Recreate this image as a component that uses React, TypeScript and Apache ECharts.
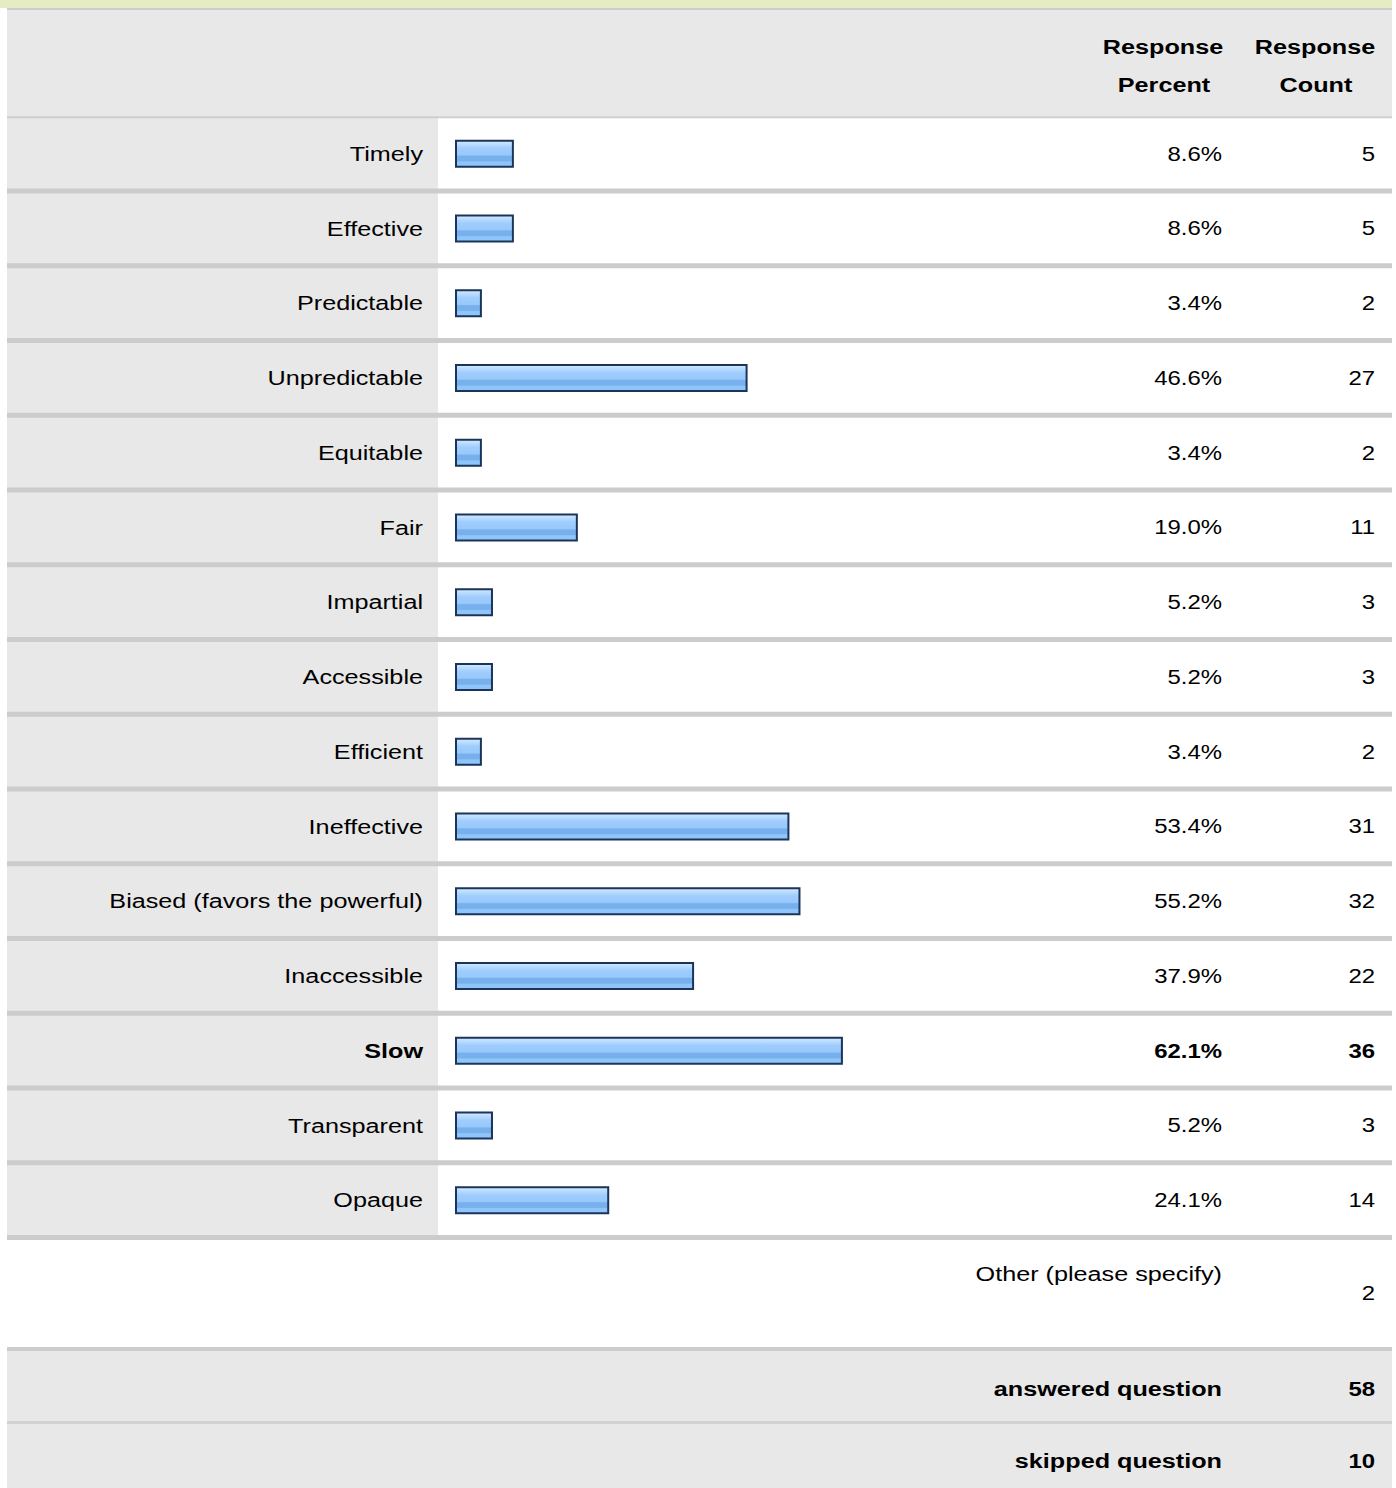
import React, { useEffect, useRef } from "react";
import * as echarts from "echarts";

const categories = [
  "Timely",
  "Effective",
  "Predictable",
  "Unpredictable",
  "Equitable",
  "Fair",
  "Impartial",
  "Accessible",
  "Efficient",
  "Ineffective",
  "Biased (favors the powerful)",
  "Inaccessible",
  "Slow",
  "Transparent",
  "Opaque",
];
const percents = [8.6, 8.6, 3.4, 46.6, 3.4, 19.0, 5.2, 5.2, 3.4, 53.4, 55.2, 37.9, 62.1, 5.2, 24.1];
const counts = [5, 5, 2, 27, 2, 11, 3, 3, 2, 31, 32, 22, 36, 3, 14];
const headerPercent = ["Response", "Percent"];
const headerCount = ["Response", "Count"];
const otherLabel = "Other (please specify)";
const otherCount = 2;
const answeredLabel = "answered question";
const answeredCount = 58;
const skippedLabel = "skipped question";
const skippedCount = 10;

const FONT = "'Liberation Sans', Arial, Helvetica, sans-serif";
const FS = 21;
const SX_NUM = 1.14;
const SX_WORD = 1.2;
const TXT = "#000000";
const GREY = "#e8e8e8";
const LINE = "#cccccc";
const TABLE_L = 7;
const TABLE_R = 1392;
const LABEL_COL_R = 438;
const LABEL_X = 423;
const PCT_X = 1222;
const CNT_X = 1375;

const maxPct = Math.max(...percents);

function txt(text: string, x: number, y: number, align: string, bold = false, sx = SX_NUM, z2 = 10) {
  return {
    type: "text",
    x,
    y,
    scaleX: sx,
    z2,
    style: {
      text,
      fill: TXT,
      fontFamily: FONT,
      fontSize: FS,
      fontWeight: bold ? "bold" : "normal",
      align,
      verticalAlign: "middle",
    },
  };
}

export default function App() {
  const ref = useRef<HTMLDivElement>(null);
  useEffect(() => {
    if (!ref.current) return;
    const chart = echarts.init(ref.current, undefined, { renderer: "svg" });
    const barFill = new echarts.graphic.LinearGradient(0, 0, 0, 1, [
      { offset: 0, color: "#d6ebff" },
      { offset: 0.14, color: "#bcdcff" },
      { offset: 0.3, color: "#9fcdfd" },
      { offset: 0.55, color: "#97c9fc" },
      { offset: 0.6, color: "#78b0ec" },
      { offset: 0.78, color: "#78b0ec" },
      { offset: 0.82, color: "#8fc5fb" },
      { offset: 1, color: "#8fc5fb" },
    ]);
    const n = categories.length;

    const graphic: any[] = [
      { type: "rect", shape: { x: 0, y: 0, width: TABLE_R, height: 8 }, style: { fill: "#e6ecc1" } },
      { type: "rect", shape: { x: TABLE_L, y: 8, width: TABLE_R - TABLE_L, height: 2 }, style: { fill: LINE } },
      { type: "rect", shape: { x: TABLE_L, y: 10, width: TABLE_R - TABLE_L, height: 106 }, style: { fill: GREY } },
      txt(headerPercent[0], 1163, 47, "center", true, SX_WORD),
      txt(headerPercent[1], 1164, 85, "center", true, SX_WORD),
      txt(headerCount[0], 1315, 47, "center", true, SX_WORD),
      txt(headerCount[1], 1316, 85, "center", true, SX_WORD),
      txt(otherLabel, PCT_X, 1274, "right", false, SX_WORD),
      txt(String(otherCount), CNT_X, 1293, "right"),
      { type: "rect", shape: { x: TABLE_L, y: 1347, width: TABLE_R - TABLE_L, height: 4 }, style: { fill: LINE } },
      { type: "rect", shape: { x: TABLE_L, y: 1351, width: TABLE_R - TABLE_L, height: 70 }, style: { fill: GREY } },
      { type: "rect", shape: { x: TABLE_L, y: 1421, width: TABLE_R - TABLE_L, height: 3 }, style: { fill: "#d2d2d2" } },
      { type: "rect", shape: { x: TABLE_L, y: 1424, width: TABLE_R - TABLE_L, height: 64 }, style: { fill: GREY } },
      txt(answeredLabel, PCT_X, 1389, "right", true, SX_WORD),
      txt(String(answeredCount), CNT_X, 1389, "right", true),
      txt(skippedLabel, PCT_X, 1461, "right", true, SX_WORD),
      txt(String(skippedCount), CNT_X, 1461, "right", true),
    ];

    chart.setOption({
      animation: false,
      grid: { left: 458, width: 615, top: 116.25, height: 1121.25 },
      xAxis: { type: "value", min: 0, max: 100, show: false },
      yAxis: { type: "category", data: categories, inverse: true, show: false },
      graphic,
      series: [
        {
          type: "custom",
          silent: true,
          clip: false,
          encode: { x: 0, y: 1 },
          data: categories.map((c, i) => [percents[i], i, counts[i]]),
          renderItem: (params: any, api: any) => {
            const idx = api.value(1) as number;
            const pct = api.value(0) as number;
            const cnt = api.value(2) as number;
            const p0 = api.coord([0, idx]);
            const p1 = api.coord([pct, idx]);
            const band = api.size([0, 1])[1];
            const cy = p0[1];
            const top = cy - band / 2;
            const bold = pct === maxPct;
            const children: any[] = [
              {
                type: "rect",
                z2: 0,
                shape: { x: TABLE_L, y: top, width: LABEL_COL_R - TABLE_L, height: band },
                style: { fill: GREY },
              },
              {
                type: "rect",
                z2: 5,
                shape: {
                  x: TABLE_L,
                  y: idx === 0 ? top : top - 2.5,
                  width: TABLE_R - TABLE_L,
                  height: idx === 0 ? 2 : 5,
                },
                style: { fill: LINE },
              },
              {
                type: "rect",
                z2: 8,
                shape: { x: p0[0] - 2, y: cy - 13, width: p1[0] - p0[0] + 4, height: 26 },
                style: { fill: barFill, stroke: "#1b355a", lineWidth: 2 },
              },
              txt(categories[idx], LABEL_X, cy, "right", bold, SX_WORD),
              txt(pct.toFixed(1) + "%", PCT_X, cy, "right", bold),
              txt(String(cnt), CNT_X, cy, "right", bold),
            ];
            if (idx === n - 1) {
              children.push({
                type: "rect",
                z2: 5,
                shape: { x: TABLE_L, y: top + band - 2.5, width: TABLE_R - TABLE_L, height: 5 },
                style: { fill: LINE },
              });
            }
            return { type: "group", children };
          },
        },
      ],
    });
    return () => chart.dispose();
  }, []);
  return (
    <div
      ref={ref}
      style={{ position: "absolute", left: 0, top: 0, width: 1396, height: 1488, background: "#ffffff" }}
    />
  );
}
